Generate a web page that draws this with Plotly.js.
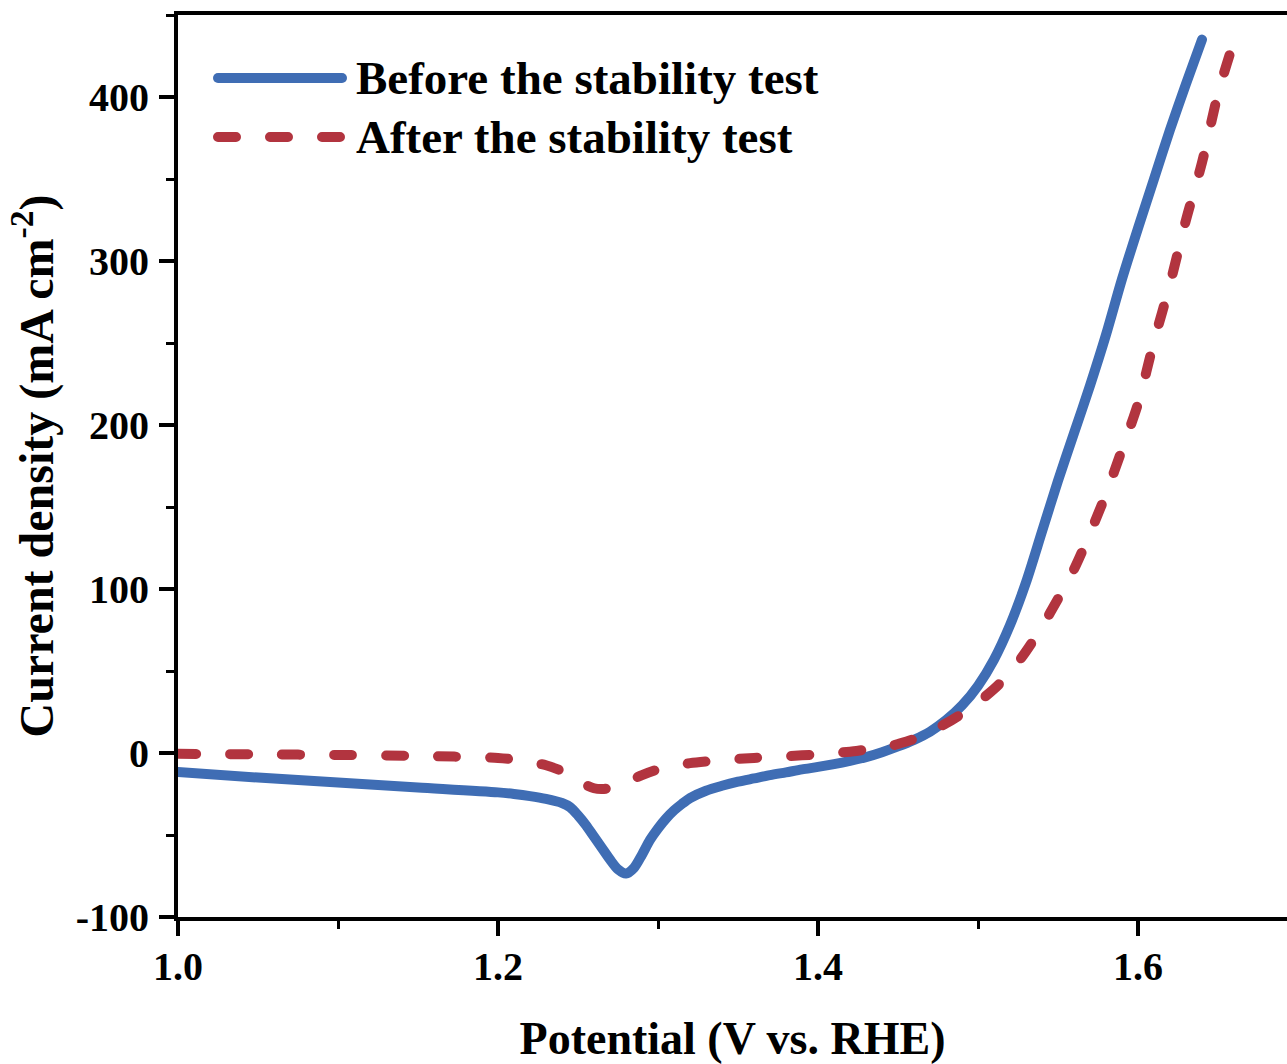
<!DOCTYPE html>
<html>
<head>
<meta charset="utf-8">
<script src="https://cdn.plot.ly/plotly-3.0.1.min.js"></script>
<style>
  html, body { margin: 0; padding: 0; background: #fff; }
  #chart { width: 1287px; height: 1064px; }
  .scatterlayer .js-line, .shapelayer path { stroke-linecap: round; stroke-linejoin: round; }
</style>
</head>
<body>
<div id="chart"></div>
<script>
// ---- data ----
const beforePotential = [1.00, 1.05, 1.10, 1.15, 1.20, 1.21, 1.22, 1.23, 1.24, 1.245, 1.25, 1.255, 1.26, 1.265, 1.27, 1.275, 1.28, 1.285, 1.29, 1.295, 1.30, 1.305, 1.31, 1.315, 1.32, 1.33, 1.34, 1.35, 1.36, 1.37, 1.38, 1.39, 1.40, 1.41, 1.42, 1.43, 1.44, 1.45, 1.46, 1.47, 1.48, 1.49, 1.50, 1.51, 1.52, 1.53, 1.54, 1.55, 1.56, 1.57, 1.58, 1.59, 1.60, 1.61, 1.62, 1.63, 1.64];
const beforeCurrent   = [-11.6, -15, -18, -21, -24, -25, -26.3, -28, -30.5, -33, -38, -44, -51, -58, -65, -71, -73.5, -70, -62, -53, -46, -40, -35, -31, -27.5, -23, -20, -17.5, -15.5, -13.5, -11.8, -10, -8.5, -6.8, -4.8, -2.5, 0.5, 4, 8, 13, 20, 29, 41, 57, 78, 104, 135, 166, 195, 224, 255, 289, 320, 350, 380, 408, 435];

const afterPotential = [1.00, 1.05, 1.10, 1.15, 1.20, 1.21, 1.22, 1.23, 1.24, 1.25, 1.255, 1.26, 1.265, 1.27, 1.28, 1.29, 1.30, 1.31, 1.32, 1.34, 1.36, 1.38, 1.40, 1.42, 1.43, 1.44, 1.45, 1.46, 1.47, 1.48, 1.49, 1.50, 1.51, 1.52, 1.53, 1.54, 1.55, 1.56, 1.57, 1.58, 1.59, 1.60, 1.61, 1.62, 1.63, 1.64, 1.65, 1.658];
const afterCurrent   = [-0.5, -0.8, -1.2, -1.8, -3, -4, -5.5, -7.5, -11, -16, -19.5, -21.5, -22, -21.3, -18, -13.5, -10, -7.8, -6.2, -4.3, -3, -2, -0.8, 0.8, 2, 3, 5.5, 8.5, 13, 18, 24, 31, 39, 49, 62, 77, 94, 112, 134, 158, 185, 213, 251, 286, 325, 360, 402, 428];

const seriesNames = ["Before the stability test", "After the stability test"];
const xTickVals = [1.0, 1.2, 1.4, 1.6];
const xTickText = ["1.0", "1.2", "1.4", "1.6"];
const yTickVals = [-100, 0, 100, 200, 300, 400];
const yTickText = ["-100", "0", "100", "200", "300", "400"];

// ---- style ----
const BLUE = "#3F6DB4";
const RED = "#B2343F";
const FONT = "'Liberation Serif', 'Times New Roman', serif";

const W = 1287, H = 1064;
const M = {l: 178, r: 0, t: 15, b: 147};
const pw = W - M.l - M.r, ph = H - M.t - M.b;
const px2x = p => (p - M.l) / pw;
const py2y = p => (H - M.b - p) / ph;

const traces = [
  {x: beforePotential, y: beforeCurrent, name: seriesNames[0], mode: "lines",
   line: {color: BLUE, width: 10, shape: "spline", smoothing: 0.8}, showlegend: false},
  {x: afterPotential, y: afterCurrent, name: seriesNames[1], mode: "lines",
   line: {color: RED, width: 10, dash: "18px,34px", shape: "spline", smoothing: 0.8}, showlegend: false}
];

const tickFont = {family: FONT, size: 40, color: "#000", weight: 700};
const xTitleFont = {family: FONT, size: 46, color: "#000", weight: 700};
const yTitleFont = {family: FONT, size: 48, color: "#000", weight: 700};
const legendFont = {family: FONT, size: 47, color: "#000", weight: 700};

const layout = {
  width: W, height: H,
  margin: M,
  paper_bgcolor: "#fff", plot_bgcolor: "#fff",
  showlegend: false,
  xaxis: {
    range: [1.0, 1.0 + pw / 1600],
    tickvals: xTickVals, ticktext: xTickText,
    ticks: "outside", ticklen: 15, tickwidth: 4, tickcolor: "#000",
    minor: {dtick: 0.1, tick0: 1.0, ticks: "outside", ticklen: 8, tickwidth: 3, tickcolor: "#000"},
    showline: true, linewidth: 4, linecolor: "#000", mirror: true,
    showgrid: false, zeroline: false,
    tickfont: tickFont, ticklabelstandoff: -4,
    title: {text: "Potential (V vs. RHE)", font: xTitleFont, standoff: 37}
  },
  yaxis: {
    range: [-100, 450],
    tickvals: yTickVals, ticktext: yTickText,
    ticks: "outside", ticklen: 15, tickwidth: 4, tickcolor: "#000",
    minor: {dtick: 50, tick0: 0, ticks: "outside", ticklen: 8, tickwidth: 3, tickcolor: "#000"},
    showline: true, linewidth: 4, linecolor: "#000",
    showgrid: false, zeroline: false,
    tickfont: tickFont, ticklabelstandoff: 2,
    title: {text: "Current density (mA cm<sup>-2</sup>)", font: yTitleFont, standoff: 8}
  },
  shapes: [
    {type: "line", xref: "paper", yref: "paper", x0: px2x(218), x1: px2x(342), y0: py2y(78), y1: py2y(78),
     line: {color: BLUE, width: 10}},
    {type: "line", xref: "paper", yref: "paper", x0: px2x(218), x1: px2x(342), y0: py2y(137), y1: py2y(137),
     line: {color: RED, width: 10, dash: "18px,34px"}}
  ],
  annotations: [
    {xref: "paper", yref: "paper", x: px2x(354), y: py2y(78), xanchor: "left", yanchor: "middle",
     text: seriesNames[0], showarrow: false, font: legendFont},
    {xref: "paper", yref: "paper", x: px2x(354), y: py2y(137), xanchor: "left", yanchor: "middle",
     text: seriesNames[1], showarrow: false, font: legendFont}
  ]
};

Plotly.newPlot("chart", traces, layout, {displayModeBar: false, staticPlot: true});
</script>
</body>
</html>
